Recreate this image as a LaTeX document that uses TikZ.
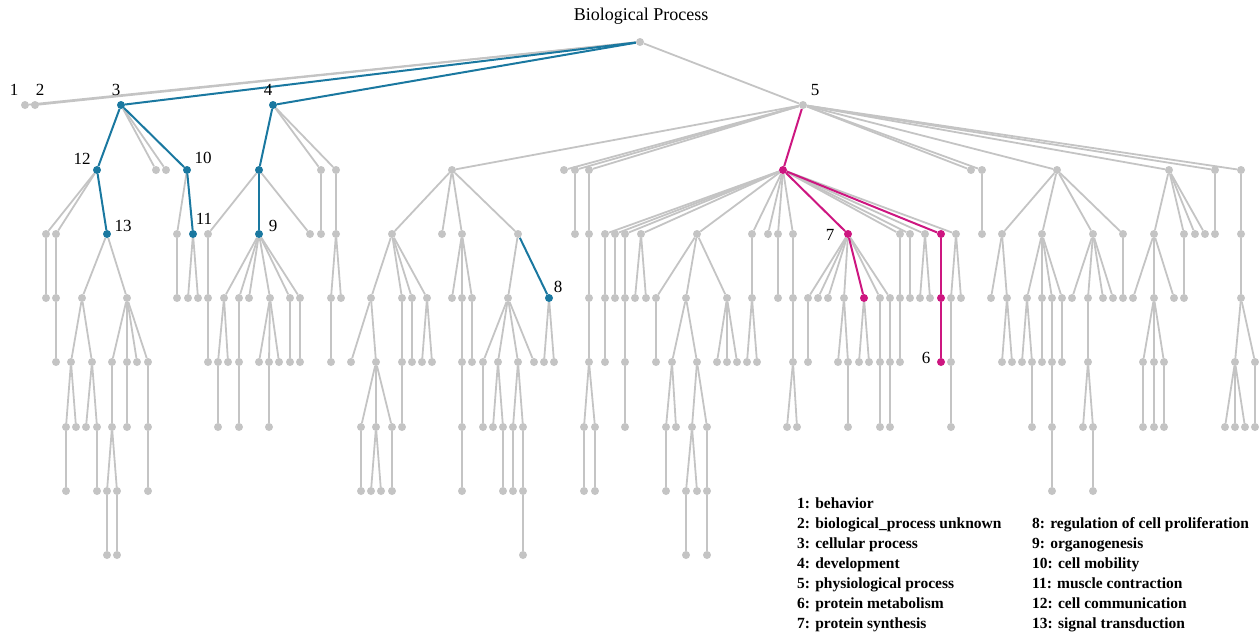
\documentclass[tikz,border=0pt]{standalone}
\usepackage{fontspec}
\setmainfont{Liberation Serif}
\usetikzlibrary{backgrounds}
\definecolor{gr}{RGB}{196,196,196}
\definecolor{bl}{RGB}{26,120,160}
\definecolor{mg}{RGB}{205,22,128}
\tikzset{
 dot/.style={circle, fill=gr, inner sep=0pt, minimum size=8pt},
 bdot/.style={dot, fill=bl},
 mdot/.style={dot, fill=mg},
 edge/.style={draw=gr, line width=1.8pt},
 bedge/.style={draw=bl, line width=2pt},
 medge/.style={draw=mg, line width=2pt},
 num/.style={font=\fontsize{17}{17}\selectfont, inner sep=0pt},
 leg/.style={font=\bfseries\fontsize{15.5}{15.5}\selectfont, anchor=base west, inner sep=0pt},
}
\newcommand\lv[4]{\foreach \x in {#4}{\node[#3] (L#1-\x) at (\x,#2) {};}}
\newcommand\ed[5]{\foreach \c in {#5}{\draw[#1] (L#2-#3) -- (L#4-\c);}}
\begin{document}
\begin{tikzpicture}[x=1pt,y=-1pt]
\useasboundingbox (0,0) rectangle (1259,635);
% nodes
\node[dot] (L0-640) at (640,42) {};
\lv{1}{105}{dot}{25,35,803}
\lv{1}{105}{bdot}{121,273}
\lv{2}{170}{dot}{156,166,321,336,452,564,575,589,971,982,1057,1169,1215,1241}
\lv{2}{170}{bdot}{97,187,259}
\lv{2}{170}{mdot}{783}
\lv{3}{234}{dot}{46,56,177,208,310,321,336,392,442,462,518,575,589,605,615,625,641,697,752,768,778,793,900,910,925,956,982,1002,1042,1093,1123,1154,1184,1195,1205,1215,1241}
\lv{3}{234}{bdot}{107,193,259}
\lv{3}{234}{mdot}{848,941}
\lv{4}{298}{dot}{46,56,82,127,177,188,198,208,224,239,249,270,290,300,331,341,371,402,412,427,452,462,472,508,589,605,615,625,635,646,656,686,727,752,778,793,808,818,828,844,880,890,900,910,920,930,951,961,991,1007,1027,1042,1052,1062,1072,1088,1103,1113,1123,1133,1154,1174,1184,1241}
\lv{4}{298}{bdot}{549}
\lv{4}{298}{mdot}{864,941}
\lv{5}{362}{dot}{56,71,92,112,127,137,148,208,218,228,239,259,269,279,290,300,331,351,376,402,412,422,432,462,472,483,498,518,534,544,554,589,605,625,656,672,697,717,727,737,747,757,793,808,838,848,859,869,880,890,900,951,1002,1012,1022,1032,1042,1052,1062,1088,1143,1154,1164,1235,1255}
\lv{5}{362}{mdot}{941}
\lv{6}{427}{dot}{66,76,86,97,112,127,148,218,239,269,361,376,392,402,462,483,493,503,513,523,584,595,625,666,676,692,707,787,797,848,880,890,951,1032,1052,1083,1093,1143,1154,1164,1225,1235,1245,1255}
\lv{7}{491}{dot}{66,97,107,117,148,361,371,381,392,462,503,513,523,584,595,666,686,697,707,1052,1093}
\lv{8}{555}{dot}{107,117,523,686,707}
% edges
\begin{pgfonlayer}{background}
\ed{edge}{0}{640}{1}{25,35,803}
\ed{edge}{1}{121}{2}{156,166}
\ed{edge}{1}{273}{2}{321,336}
\ed{edge}{1}{803}{2}{452,564,575,589,971,982,1057,1169,1215,1241}
\ed{edge}{2}{97}{3}{46,56}
\ed{edge}{2}{187}{3}{177}
\ed{edge}{2}{259}{3}{208,310}
\ed{edge}{2}{321}{3}{321}
\ed{edge}{2}{336}{3}{336}
\ed{edge}{2}{452}{3}{392,442,462,518}
\ed{edge}{2}{575}{3}{575}
\ed{edge}{2}{589}{3}{589}
\ed{edge}{2}{783}{3}{605,615,625,641,697,752,768,778,793,900,910,925,956}
\ed{edge}{2}{982}{3}{982}
\ed{edge}{2}{1057}{3}{1002,1042,1093,1123}
\ed{edge}{2}{1169}{3}{1154,1184,1195,1205}
\ed{edge}{2}{1215}{3}{1215}
\ed{edge}{2}{1241}{3}{1241}
% level 3 -> 4
\ed{edge}{3}{46}{4}{46}
\ed{edge}{3}{56}{4}{56}
\ed{edge}{3}{107}{4}{82,127}
\ed{edge}{3}{177}{4}{177}
\ed{edge}{3}{193}{4}{188,198}
\ed{edge}{3}{208}{4}{208}
\ed{edge}{3}{259}{4}{224,239,249,270,290,300}
\ed{edge}{3}{336}{4}{331,341}
\ed{edge}{3}{392}{4}{371,402,412,427}
\ed{edge}{3}{462}{4}{452,462,472}
\ed{edge}{3}{518}{4}{508}
\ed{edge}{3}{589}{4}{589}
\ed{edge}{3}{605}{4}{605}
\ed{edge}{3}{615}{4}{615}
\ed{edge}{3}{625}{4}{625}
\ed{edge}{3}{641}{4}{635,646}
\ed{edge}{3}{697}{4}{656,686,727}
\ed{edge}{3}{752}{4}{752}
\ed{edge}{3}{778}{4}{778}
\ed{edge}{3}{793}{4}{793}
\ed{edge}{3}{848}{4}{808,818,828,844,880,890}
\ed{edge}{3}{900}{4}{900}
\ed{edge}{3}{910}{4}{910}
\ed{edge}{3}{925}{4}{920,930}
\ed{edge}{3}{956}{4}{951,961}
\ed{edge}{3}{1002}{4}{991,1007}
\ed{edge}{3}{1042}{4}{1027,1042,1052,1062}
\ed{edge}{3}{1093}{4}{1072,1088,1103,1113}
\ed{edge}{3}{1123}{4}{1123}
\ed{edge}{3}{1154}{4}{1133,1154,1174}
\ed{edge}{3}{1184}{4}{1184}
\ed{edge}{3}{1241}{4}{1241}
% level 4 -> 5
\ed{edge}{4}{56}{5}{56}
\ed{edge}{4}{82}{5}{71,92}
\ed{edge}{4}{127}{5}{112,127,137,148}
\ed{edge}{4}{208}{5}{208}
\ed{edge}{4}{224}{5}{218,228}
\ed{edge}{4}{239}{5}{239}
\ed{edge}{4}{270}{5}{259,269,279}
\ed{edge}{4}{290}{5}{290}
\ed{edge}{4}{300}{5}{300}
\ed{edge}{4}{331}{5}{331}
\ed{edge}{4}{371}{5}{351,376}
\ed{edge}{4}{402}{5}{402}
\ed{edge}{4}{412}{5}{412}
\ed{edge}{4}{427}{5}{422,432}
\ed{edge}{4}{462}{5}{462}
\ed{edge}{4}{472}{5}{472}
\ed{edge}{4}{508}{5}{483,498,518,534}
\ed{edge}{4}{549}{5}{544,554}
\ed{edge}{4}{589}{5}{589}
\ed{edge}{4}{605}{5}{605}
\ed{edge}{4}{625}{5}{625}
\ed{edge}{4}{656}{5}{656}
\ed{edge}{4}{686}{5}{672,697}
\ed{edge}{4}{727}{5}{717,727,737}
\ed{edge}{4}{752}{5}{747,757}
\ed{edge}{4}{793}{5}{793}
\ed{edge}{4}{808}{5}{808}
\ed{edge}{4}{844}{5}{838,848}
\ed{edge}{4}{864}{5}{859,869}
\ed{edge}{4}{880}{5}{880}
\ed{edge}{4}{890}{5}{890}
\ed{edge}{4}{900}{5}{900}
\ed{edge}{4}{951}{5}{951}
\ed{edge}{4}{1007}{5}{1002,1012}
\ed{edge}{4}{1027}{5}{1022,1032}
\ed{edge}{4}{1042}{5}{1042}
\ed{edge}{4}{1052}{5}{1052}
\ed{edge}{4}{1062}{5}{1062}
\ed{edge}{4}{1088}{5}{1088}
\ed{edge}{4}{1154}{5}{1143,1154,1164}
\ed{edge}{4}{1241}{5}{1235,1255}
% level 5 -> 6
\ed{edge}{5}{71}{6}{66,76}
\ed{edge}{5}{92}{6}{86,97}
\ed{edge}{5}{112}{6}{112}
\ed{edge}{5}{127}{6}{127}
\ed{edge}{5}{148}{6}{148}
\ed{edge}{5}{218}{6}{218}
\ed{edge}{5}{239}{6}{239}
\ed{edge}{5}{269}{6}{269}
\ed{edge}{5}{376}{6}{361,376,392}
\ed{edge}{5}{402}{6}{402}
\ed{edge}{5}{462}{6}{462}
\ed{edge}{5}{483}{6}{483}
\ed{edge}{5}{498}{6}{493,503}
\ed{edge}{5}{518}{6}{513,523}
\ed{edge}{5}{589}{6}{584,595}
\ed{edge}{5}{625}{6}{625}
\ed{edge}{5}{672}{6}{666,676}
\ed{edge}{5}{697}{6}{692,707}
\ed{edge}{5}{793}{6}{787,797}
\ed{edge}{5}{848}{6}{848}
\ed{edge}{5}{880}{6}{880}
\ed{edge}{5}{890}{6}{890}
\ed{edge}{5}{951}{6}{951}
\ed{edge}{5}{1032}{6}{1032}
\ed{edge}{5}{1052}{6}{1052}
\ed{edge}{5}{1088}{6}{1083,1093}
\ed{edge}{5}{1143}{6}{1143}
\ed{edge}{5}{1154}{6}{1154}
\ed{edge}{5}{1164}{6}{1164}
\ed{edge}{5}{1235}{6}{1225,1235,1245}
\ed{edge}{5}{1255}{6}{1255}
% level 6 -> 7
\ed{edge}{6}{66}{7}{66}
\ed{edge}{6}{97}{7}{97}
\ed{edge}{6}{112}{7}{107,117}
\ed{edge}{6}{148}{7}{148}
\ed{edge}{6}{361}{7}{361}
\ed{edge}{6}{376}{7}{371,381}
\ed{edge}{6}{392}{7}{392}
\ed{edge}{6}{462}{7}{462}
\ed{edge}{6}{503}{7}{503}
\ed{edge}{6}{513}{7}{513}
\ed{edge}{6}{523}{7}{523}
\ed{edge}{6}{584}{7}{584}
\ed{edge}{6}{595}{7}{595}
\ed{edge}{6}{666}{7}{666}
\ed{edge}{6}{692}{7}{686,697}
\ed{edge}{6}{707}{7}{707}
\ed{edge}{6}{1052}{7}{1052}
\ed{edge}{6}{1093}{7}{1093}
% level 7 -> 8
\ed{edge}{7}{107}{8}{107}
\ed{edge}{7}{117}{8}{117}
\ed{edge}{7}{523}{8}{523}
\ed{edge}{7}{686}{8}{686}
\ed{edge}{7}{707}{8}{707}
% highlighted paths
\ed{bedge}{0}{640}{1}{121,273}
\ed{bedge}{1}{121}{2}{97,187}
\ed{bedge}{1}{273}{2}{259}
\ed{bedge}{2}{97}{3}{107}
\ed{bedge}{2}{187}{3}{193}
\ed{bedge}{2}{259}{3}{259}
\ed{bedge}{3}{518}{4}{549}
\ed{medge}{1}{803}{2}{783}
\ed{medge}{2}{783}{3}{848,941}
\ed{medge}{3}{848}{4}{864}
\ed{medge}{3}{941}{4}{941}
\ed{medge}{4}{941}{5}{941}
\end{pgfonlayer}
% labels
\node[font=\fontsize{18}{18}\selectfont, inner sep=0pt] (title) at (641,16) {Biological Process};
\node[num] (t1) at (14,90) {1};
\node[num] (t2) at (40,90) {2};
\node[num] (t3) at (116,90) {3};
\node[num] (t4) at (268,90) {4};
\node[num] (t5) at (815,90) {5};
\node[num] (t6) at (926,358) {6};
\node[num] (t7) at (830,235) {7};
\node[num] (t8) at (558,287) {8};
\node[num] (t9) at (273,226) {9};
\node[num] (t10) at (203,158) {10};
\node[num] (t11) at (204,219) {11};
\node[num] (t12) at (82,159) {12};
\node[num] (t13) at (123,226) {13};
% legend
\node[leg] (g1) at (797,508) {1: behavior};
\node[leg] (g2) at (797,528) {2: biological\_process unknown};
\node[leg] (g3) at (797,548) {3: cellular process};
\node[leg] (g4) at (797,568) {4: development};
\node[leg] (g5) at (797,588) {5: physiological process};
\node[leg] (g6) at (797,608) {6: protein metabolism};
\node[leg] (g7) at (797,628) {7: protein synthesis};
\node[leg] (g8) at (1032,528) {8: regulation of cell proliferation};
\node[leg] (g9) at (1032,548) {9: organogenesis};
\node[leg] (g10) at (1032,568) {10: cell mobility};
\node[leg] (g11) at (1032,588) {11: muscle contraction};
\node[leg] (g12) at (1032,608) {12: cell communication};
\node[leg] (g13) at (1032,628) {13: signal transduction};
\end{tikzpicture}
\end{document}
